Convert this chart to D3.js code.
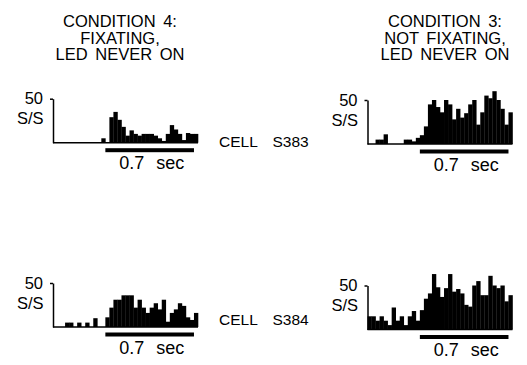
<!DOCTYPE html>
<html>
<head>
<meta charset="utf-8">
<script src="https://cdn.jsdelivr.net/npm/d3@7"></script>
<style>
  body { margin: 0; background: #fff; }
  text { font-family: "Liberation Sans", Arial, Helvetica, sans-serif; fill: #000; }
</style>
</head>
<body>
<div id="chart"></div>
<script>
// bins are ~32 ms; 13 bins before LED/stim onset, 23 after
const binWidth = 0.7 / 22;
const preBins = 13;
const stimulus = [0, 0.7];
const yTicks = [50];
const yLabel = "S/S";
const barLabel = "0.7 sec";
const titles = [
  ["CONDITION 4:", "FIXATING,", "LED NEVER ON"],
  ["CONDITION 3:", "NOT FIXATING,", "LED NEVER ON"]
];
const cells = ["CELL S383", "CELL S384"];

// spike rates (S/S) per bin
const s383Fixating = [0, 0, 0, 0, 0, 0, 0, 0, 0, 0, 0, 0, 5, 0,
  29, 35, 26, 18, 8, 14, 10, 8, 10, 10, 10, 8, 5, 2, 10, 20, 15, 10, 3, 11, 10, 10];
const s383NotFixating = [0, 0, 5, 5, 11, 0, 0, 0, 0, 5, 5, 3, 7, 10,
  20, 45, 50, 42, 36, 50, 45, 28, 40, 30, 35, 45, 50, 22, 36, 55, 52, 60, 50, 40, 22, 36];
const s384Fixating = [0, 0, 0, 5, 5, 0, 5, 0, 5, 0, 10, 0, 0,
  11, 22, 31, 31, 36, 36, 36, 22, 31, 22, 16, 22, 27, 20, 31, 6, 16, 20, 27, 24, 11, 8, 16];
const s384NotFixating = [15, 15, 10, 15, 10, 5, 25, 10, 15, 5, 15, 21, 10, 22,
  35, 41, 63, 48, 37, 47, 63, 43, 46, 41, 28, 26, 50, 55, 39, 39, 61, 50, 47, 50, 32, 39];

const width = 527, height = 365;
const plotW = 145, plotH = 44;

const svg = d3.select("#chart").append("svg")
  .attr("width", width)
  .attr("height", height);

// column titles
const titleX = [120, 445];
titles.forEach((lines, c) => {
  svg.append("text")
    .attr("text-anchor", "middle")
    .style("font-size", "16.5px")
    .style("word-spacing", "3px")
    .selectAll("tspan")
    .data(lines)
    .enter().append("tspan")
    .attr("x", titleX[c])
    .attr("y", (d, i) => 27 + i * 16.5)
    .text(d => d);
});

const panels = [
  { data: s383Fixating, left: 53, base: 142.7 },
  { data: s383NotFixating, left: 367.5, base: 144 },
  { data: s384Fixating, left: 53, base: 327 },
  { data: s384NotFixating, left: 367.5, base: 329.5 }
];

panels.forEach(p => {
  const t0 = -preBins * binWidth;
  const t1 = (p.data.length - preBins) * binWidth;
  const x = d3.scaleLinear().domain([t0, t1]).range([p.left, p.left + plotW]);
  const y = d3.scaleLinear().domain([0, 50]).range([p.base, p.base - plotH]);

  const g = svg.append("g");

  // baseline
  g.append("line")
    .attr("x1", x(t0)).attr("x2", x(t1))
    .attr("y1", p.base).attr("y2", p.base)
    .attr("stroke", "#000")
    .attr("stroke-width", 1.5);

  g.selectAll("rect.bin")
    .data(p.data)
    .enter().append("rect")
    .attr("class", "bin")
    .attr("x", (d, i) => x(t0 + i * binWidth))
    .attr("width", (d, i) => x(t0 + (i + 1) * binWidth) - x(t0 + i * binWidth) + 0.3)
    .attr("y", d => y(d))
    .attr("height", d => p.base - y(d))
    .attr("fill", "#000");

  const axis = g.append("g")
    .attr("transform", "translate(" + p.left + ",0)")
    .call(d3.axisLeft(y).tickValues(yTicks).tickSize(3).tickSizeOuter(0).tickPadding(7));
  axis.select(".domain").attr("stroke-width", 1.5);
  axis.selectAll(".tick line").attr("stroke-width", 1.5);
  axis.selectAll(".tick text")
    .style("font-size", "16.5px")
    .style("font-family", "\"Liberation Sans\", Arial, sans-serif");

  g.append("text")
    .attr("x", p.left - 9.5)
    .attr("y", y(50) + 25.5)
    .attr("text-anchor", "end")
    .style("font-size", "16.5px")
    .text(yLabel);

  // stimulus bar
  g.append("rect")
    .attr("x", x(stimulus[0]))
    .attr("width", x(stimulus[1]) - x(stimulus[0]))
    .attr("y", p.base + 5.5)
    .attr("height", 4)
    .attr("fill", "#000");

  g.append("text")
    .attr("x", (x(stimulus[0]) + x(stimulus[1])) / 2 + 2)
    .attr("y", p.base + 26.5)
    .attr("text-anchor", "middle")
    .style("font-size", "18px")
    .style("word-spacing", "7px")
    .text(barLabel);
});

// cell labels between columns
const cellY = [146.5, 325];
cells.forEach((c, i) => {
  svg.append("text")
    .attr("x", 219)
    .attr("y", cellY[i])
    .style("font-size", "15.5px")
    .style("word-spacing", "11px")
    .text(c);
});
</script>
</body>
</html>
